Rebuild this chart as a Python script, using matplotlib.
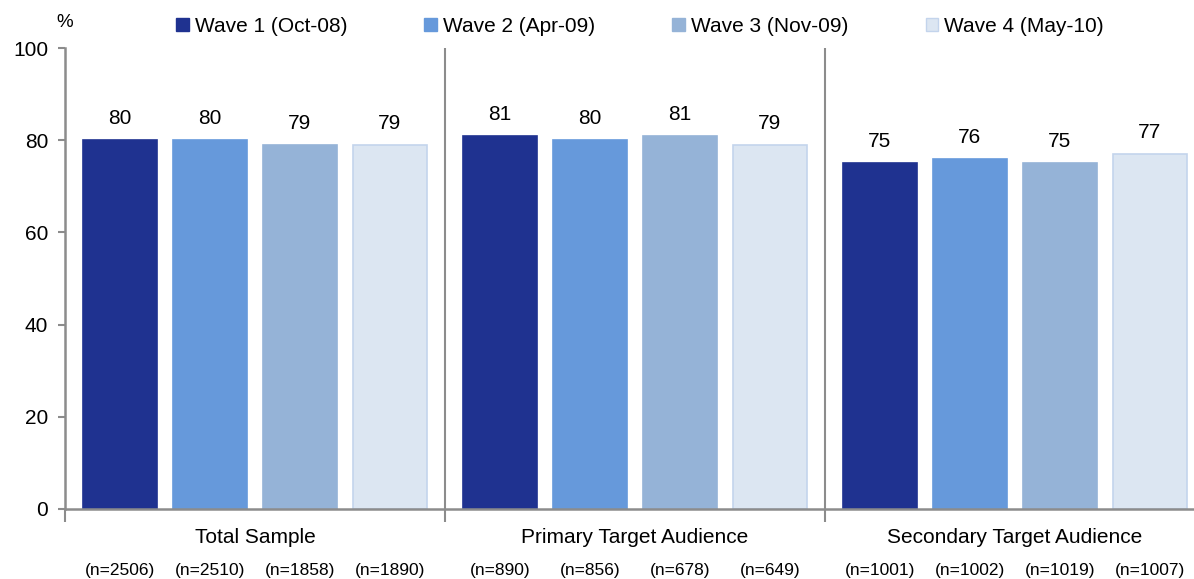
import matplotlib.pyplot as plt
import numpy as np
from matplotlib.patches import Patch

plt.rcParams['font.family'] = ['Liberation Sans', 'DejaVu Sans']

# Survey results by audience and wave
groups = ['Total Sample', 'Primary Target Audience', 'Secondary Target Audience']
waves = ['Wave 1 (Oct-08)', 'Wave 2 (Apr-09)', 'Wave 3 (Nov-09)', 'Wave 4 (May-10)']
wave1 = [80, 81, 75]
wave2 = [80, 80, 76]
wave3 = [79, 81, 75]
wave4 = [79, 79, 77]
sample_sizes = [
    ['(n=2506)', '(n=2510)', '(n=1858)', '(n=1890)'],
    ['(n=890)', '(n=856)', '(n=678)', '(n=649)'],
    ['(n=1001)', '(n=1002)', '(n=1019)', '(n=1007)'],
]

colors = ['#1f3290', '#6699db', '#95b3d7', '#dce6f2']
edges = ['#1f3290', '#6699db', '#95b3d7', '#c3d4ec']
axis_grey = '#8c8c8c'

fig = plt.figure(figsize=(11.94, 5.79), dpi=100)
ax = fig.add_axes([0.0544, 0.1209, 0.9548, 0.796])

x = np.arange(len(groups)) + 0.5
width = 0.197
step = 0.2368
series = [wave1, wave2, wave3, wave4]
for i, vals in enumerate(series):
    pos = x + (i - 1.5) * step
    ax.bar(pos, vals, width, color=colors[i], edgecolor=edges[i],
           linewidth=1.2, label=waves[i])
    for xp, v in zip(pos, vals):
        ax.annotate(str(v), (xp, v), xytext=(0, 12), textcoords='offset pixels',
                    ha='center', va='bottom', fontsize=15)
    for g, xp in enumerate(pos):
        ax.annotate(sample_sizes[g][i], (xp, 0), xytext=(0, -62),
                    textcoords='offset pixels', ha='center', va='center',
                    fontsize=12.5)

for g, xc in enumerate(x):
    ax.annotate(groups[g], (xc, 0), xytext=(0, -29), textcoords='offset pixels',
                ha='center', va='center', fontsize=15)

# group separators
ax.vlines([1, 2], 0, 100, color=axis_grey, linewidth=1.5)

ax.set_xlim(0, 3)
ax.set_ylim(0, 100)
ax.set_yticks([0, 20, 40, 60, 80, 100])
ax.set_xticks([0, 1, 2, 3])
ax.set_xticklabels([])
ax.tick_params(axis='y', direction='out', length=5, width=1.5, color=axis_grey,
               labelsize=15, pad=7)
ax.tick_params(axis='x', direction='out', length=9, width=1.5, color=axis_grey)
for side in ['top', 'right']:
    ax.spines[side].set_visible(False)
for side in ['left', 'bottom']:
    ax.spines[side].set_color(axis_grey)
    ax.spines[side].set_linewidth(1.8)

fig.text(0.047, 0.962, '%', fontsize=13.5, ha='left', va='center')

handles = [Patch(facecolor=colors[i], edgecolor=edges[i], label=waves[i])
           for i in range(4)]
fig.legend(handles=handles, loc='center', bbox_to_anchor=(0.536, 0.955),
           ncol=4, frameon=False, fontsize=15, handlelength=0.6,
           handleheight=0.6, handletextpad=0.3, columnspacing=3.7)

fig.savefig('out.png', dpi=100)
